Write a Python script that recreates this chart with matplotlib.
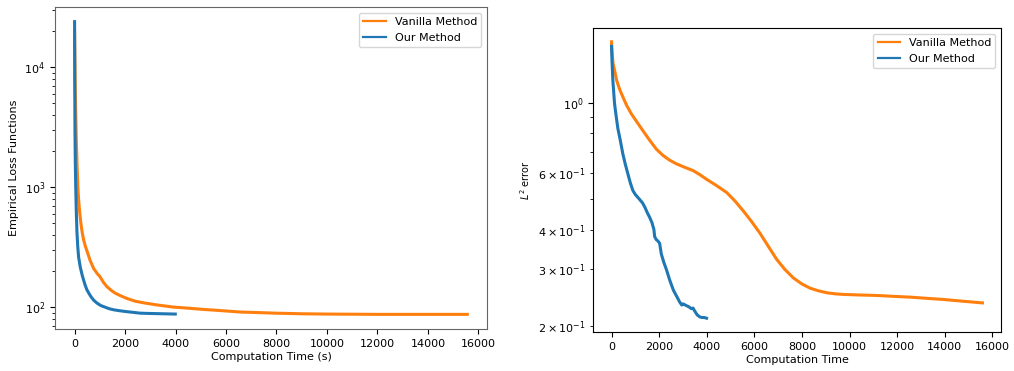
import matplotlib
matplotlib.use("Agg")
import matplotlib.pyplot as plt

# ---- Left panel: empirical loss vs computation time (s) ----
loss_t_vanilla = [0, 30, 67, 100, 130, 160, 200, 250, 300, 357, 430, 500, 600, 753,
                  900, 1000, 1150, 1284, 1450, 1600, 1800, 2077, 2400, 2800, 3300,
                  3924, 4500, 5000, 5800, 6568, 7300, 8000, 9000, 10000, 12000, 15560]
loss_v_vanilla = [20000, 6000, 2470, 1500, 1000, 780, 620, 500, 420, 364, 320, 290,
                  250, 210, 190, 180, 160, 148, 138, 131, 125, 118, 112, 108, 104,
                  100, 98, 96, 93.5, 91, 90, 89, 88, 87.5, 87, 87]
loss_t_ours = [0, 5, 15, 30, 50, 70, 95, 125, 160, 226, 300, 350, 420, 491, 570, 650,
               760, 888, 1040, 1200, 1370, 1546, 1750, 2000, 2300, 2604, 3000, 3500,
               3990]
loss_v_ours = [24000, 8000, 3000, 1500, 900, 600, 415, 320, 260, 215, 185, 170, 152,
               139, 130, 122, 114, 108, 103, 100, 97, 95, 93.5, 92, 90.5, 89, 88.5,
               88, 87.5]

# ---- Right panel: L2 error vs computation time ----
err_t_vanilla = [0, 20, 60, 130, 220, 340, 480, 620, 820, 1040, 1300, 1600, 1880,
                 2160, 2440, 2720, 3070, 3430, 3700, 3990, 4400, 4830, 5180, 5530,
                 5880, 6230, 6580, 6930, 7280, 7640, 8000, 8340, 8700, 9040, 9400,
                 9740, 10400, 11140, 11850, 12550, 13250, 13950, 14750, 15580]
err_v_vanilla = [1.55, 1.45, 1.33, 1.26, 1.17, 1.10, 1.04, 0.985, 0.925, 0.875, 0.82,
                 0.762, 0.715, 0.683, 0.66, 0.643, 0.627, 0.612, 0.595, 0.575, 0.55,
                 0.523, 0.492, 0.458, 0.424, 0.39, 0.355, 0.323, 0.30, 0.282, 0.27,
                 0.262, 0.257, 0.2535, 0.2515, 0.2505, 0.2495, 0.2486, 0.247, 0.2456,
                 0.2435, 0.2415, 0.2385, 0.2356]
err_t_ours = [0, 20, 55, 126, 200, 265, 370, 476, 580, 686, 790, 897, 1000, 1100,
              1180, 1300, 1400, 1500, 1600, 1700, 1780, 1811, 1880, 1950, 2021, 2092,
              2200, 2303, 2442, 2600, 2724, 2863, 2950, 3002, 3145, 3250, 3350, 3423,
              3495, 3600, 3705, 3800, 3900, 3990]
err_v_ours = [1.50, 1.35, 1.175, 0.993, 0.90, 0.83, 0.76, 0.69, 0.64, 0.598, 0.56,
              0.53, 0.515, 0.505, 0.497, 0.485, 0.47, 0.452, 0.437, 0.42, 0.40, 0.38,
              0.372, 0.368, 0.362, 0.335, 0.315, 0.300, 0.278, 0.258, 0.248, 0.237,
              0.232, 0.234, 0.231, 0.229, 0.226, 0.227, 0.222, 0.216, 0.213, 0.212,
              0.212, 0.211]

labels = ["Vanilla Method", "Our Method"]
c_orange = "#ff7f0e"
c_blue = "#1f77b4"

plt.rcParams['font.family'] = ['DejaVu Sans']
plt.rcParams['font.size'] = 8

fig = plt.figure(figsize=(10.14, 3.71), dpi=100)
ax1 = fig.add_axes([0.0542, 0.1132, 0.426, 0.868])
ax2 = fig.add_axes([0.5848, 0.1051, 0.4024, 0.8194])

lw = 2.2
ax1.plot(loss_t_vanilla, loss_v_vanilla, color=c_orange, lw=lw, label=labels[0])
ax1.plot(loss_t_ours, loss_v_ours, color=c_blue, lw=lw, label=labels[1])
ax1.set_yscale('log')
ax1.set_xlabel("Computation Time (s)", fontsize=8, labelpad=2)
ax1.set_ylabel("Empirical Loss Functions", fontsize=8)
for s in ax1.spines.values():
    s.set_color('#666666')
ax1.tick_params(labelsize=8)
leg1 = ax1.legend(loc='upper right', fontsize=8)
for l in leg1.get_lines():
    l.set_linewidth(1.6)

ax2.plot(err_t_vanilla, err_v_vanilla, color=c_orange, lw=lw, label=labels[0])
ax2.plot(err_t_ours, err_v_ours, color=c_blue, lw=lw, label=labels[1])
ax2.set_yscale('log')
ax2.set_xlabel("Computation Time", fontsize=8, labelpad=2)
ax2.set_ylabel("$L^2$ error", fontsize=7)
ax2.tick_params(labelsize=8)
leg2 = ax2.legend(loc='upper right', fontsize=8)
for l in leg2.get_lines():
    l.set_linewidth(1.6)

fig.savefig("out.png", dpi=100)
